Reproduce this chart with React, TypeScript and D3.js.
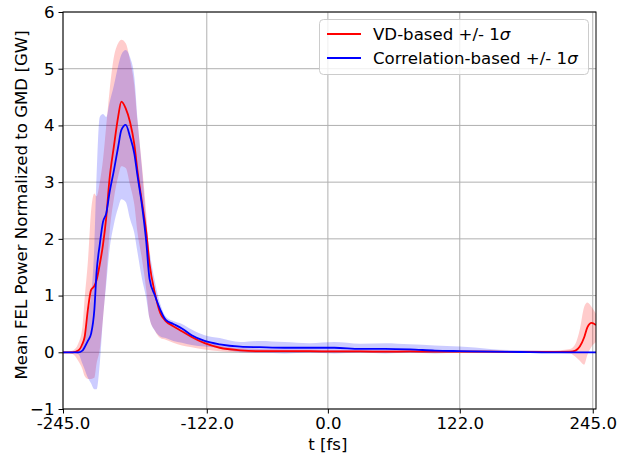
import * as d3 from "d3";
import { useEffect, useRef } from "react";

// time axis [fs]
const tFs = [-245, -236, -231, -227, -225, -222, -219, -216, -214, -211, -208, -205, -202, -198, -194, -191, -187, -183, -179, -176, -172, -168, -165, -160, -155, -150, -143, -135, -126, -114, -100, -81, -63, -40, -17, 6, 30, 53, 76, 99, 122, 150, 178, 205, 224, 229, 233, 237, 240, 244, 248];

// VD-based mean and +/- 1 sigma
const vdMean = [0, 0, 0.03, 0.15, 0.27, 0.75, 1.1, 1.17, 1.27, 1.55, 1.9, 2.38, 3.05, 3.62, 4.15, 4.42, 4.3, 4.06, 3.66, 3.18, 2.65, 2.12, 1.57, 1.04, 0.69, 0.55, 0.46, 0.37, 0.27, 0.16, 0.08, 0.035, 0.02, 0.02, 0.02, 0.015, 0.015, 0.01, 0.015, 0.01, 0.01, 0.01, 0.005, 0.005, 0.01, 0.03, 0.1, 0.26, 0.44, 0.52, 0.48];
const vdUpper = [0, 0.03, 0.15, 0.45, 0.95, 1.6, 2.5, 2.8, 2.75, 3.0, 3.4, 4.0, 4.6, 5.2, 5.45, 5.51, 5.45, 5.15, 4.7, 4.05, 3.3, 2.45, 1.6, 0.95, 0.72, 0.6, 0.48, 0.4, 0.3, 0.2, 0.12, 0.07, 0.06, 0.05, 0.05, 0.045, 0.045, 0.04, 0.045, 0.04, 0.04, 0.035, 0.03, 0.03, 0.06, 0.15, 0.4, 0.8, 0.88, 0.8, 0.68];
const vdLower = [0, -0.03, -0.15, -0.3, -0.42, -0.47, -0.47, -0.45, -0.2, 0.05, 0.6, 1.3, 2.1, 2.7, 3.1, 3.28, 3.25, 2.95, 2.6, 2.1, 1.65, 1.1, 0.6, 0.38, 0.25, 0.22, 0.17, 0.12, 0.09, 0.05, 0.02, 0.0, -0.01, -0.005, -0.01, -0.01, -0.005, -0.01, -0.01, -0.01, -0.01, -0.01, -0.01, -0.01, -0.02, -0.08, -0.15, -0.22, -0.05, 0.1, 0.18];

// correlation-based mean and +/- 1 sigma
const corrMean = [0, 0, 0, 0.03, 0.09, 0.2, 0.33, 0.75, 1.4, 1.9, 2.3, 2.45, 2.81, 3.2, 3.62, 3.92, 4.01, 3.8, 3.5, 3.1, 2.6, 1.95, 1.3, 1.0, 0.75, 0.57, 0.5, 0.42, 0.3, 0.2, 0.14, 0.1, 0.09, 0.08, 0.08, 0.08, 0.06, 0.06, 0.05, 0.03, 0.02, 0.01, 0.005, 0, 0, 0, 0, 0, 0, 0, 0];
const corrUpper = [0, 0, 0.02, 0.1, 0.3, 0.7, 1.0, 1.9, 3.1, 4.15, 4.2, 4.15, 4.4, 4.7, 5.05, 5.25, 5.33, 5.2, 4.85, 4.1, 3.25, 2.3, 1.8, 1.25, 0.85, 0.63, 0.55, 0.5, 0.4, 0.3, 0.25, 0.18, 0.2, 0.18, 0.16, 0.18, 0.15, 0.16, 0.14, 0.12, 0.1, 0.06, 0.03, 0.02, 0.01, 0.005, 0.005, 0.005, 0.005, 0.005, 0.005];
const corrLower = [0, -0.01, -0.03, -0.2, -0.3, -0.45, -0.55, -0.65, -0.65, -0.2, 0.6, 1.2, 1.8, 2.25, 2.55, 2.7, 2.65, 2.35, 2.1, 1.75, 1.3, 0.95, 0.6, 0.38, 0.28, 0.25, 0.2, 0.17, 0.13, 0.1, 0.07, 0.0, -0.01, -0.02, -0.01, -0.02, -0.01, -0.02, -0.01, -0.02, -0.01, -0.01, -0.01, -0.005, 0, 0, 0, 0, 0, 0, 0];

const xTickValues = [-245, -112, 0, 122, 245];
const xTickLabels = ["-245.0", "-122.0", "0.0", "122.0", "245.0"];
const yTickValues = [-1, 0, 1, 2, 3, 4, 5, 6];

const FONT = "'DejaVu Sans', sans-serif";
const FS = 16.6;

function App() {
	const ref = useRef<SVGSVGElement | null>(null);

	useEffect(() => {
		const svg = d3.select(ref.current);
		svg.selectAll("*").remove();

		const left = 63, right = 596, top = 12, bottom = 409;

		const x = d3.scaleLinear().domain([-245, 248]).range([left, right]);
		const y = d3.scaleLinear().domain([-1, 6]).range([bottom, top]);

		svg.append("rect").attr("width", 617).attr("height", 456).attr("fill", "#fff");

		// grid
		const grid = svg.append("g").attr("stroke", "#b0b0b0").attr("stroke-width", 1);
		xTickValues.forEach(v => {
			grid.append("line").attr("x1", x(v)).attr("x2", x(v)).attr("y1", top).attr("y2", bottom);
		});
		yTickValues.forEach(v => {
			grid.append("line").attr("x1", left).attr("x2", right).attr("y1", y(v)).attr("y2", y(v));
		});

		const clip = svg.append("clipPath").attr("id", "plotclip");
		clip.append("rect").attr("x", left).attr("y", top).attr("width", right - left).attr("height", bottom - top);
		const plot = svg.append("g").attr("clip-path", "url(#plotclip)");

		const idx = d3.range(tFs.length);
		const band = (lo: number[], hi: number[]) =>
			d3.area<number>().x(i => x(tFs[i])).y0(i => y(lo[i])).y1(i => y(hi[i])).curve(d3.curveMonotoneX)(idx);
		const line = (vals: number[]) =>
			d3.line<number>().x(i => x(tFs[i])).y(i => y(vals[i])).curve(d3.curveMonotoneX)(idx);

		plot.append("path").attr("d", band(vdLower, vdUpper)).attr("fill", "#ff0000").attr("fill-opacity", 0.2);
		plot.append("path").attr("d", band(corrLower, corrUpper)).attr("fill", "#0000ff").attr("fill-opacity", 0.2);
		plot.append("path").attr("d", line(vdMean)).attr("fill", "none").attr("stroke", "#ff0000").attr("stroke-width", 1.8);
		plot.append("path").attr("d", line(corrMean)).attr("fill", "none").attr("stroke", "#0000ff").attr("stroke-width", 1.8);

		// axes
		const xAxis = d3.axisBottom(x).tickValues(xTickValues).tickFormat((d, i) => xTickLabels[i]).tickSizeOuter(0).tickSize(4.5).tickPadding(4);
		const gx = svg.append("g").attr("transform", `translate(0,${bottom})`).call(xAxis);
		const yAxis = d3.axisLeft(y).tickValues(yTickValues).tickFormat(d => d3.format("d")(d as number).replace("-", "\u2212")).tickSizeOuter(0).tickSize(4.5).tickPadding(4);
		const gy = svg.append("g").attr("transform", `translate(${left},0)`).call(yAxis);
		[gx, gy].forEach(g => {
			g.select(".domain").remove();
			g.selectAll("line").attr("stroke", "#000").attr("stroke-width", 1);
			g.selectAll("text").attr("fill", "#000").style("font-family", FONT).style("font-size", `${FS}px`);
		});

		// frame
		svg.append("rect").attr("x", left).attr("y", top).attr("width", right - left).attr("height", bottom - top)
			.attr("fill", "none").attr("stroke", "#000").attr("stroke-width", 1);

		// axis labels
		svg.append("text").attr("x", x(0)).attr("y", 450).attr("text-anchor", "middle")
			.style("font-family", FONT).style("font-size", `${FS}px`).text("t [fs]");
		svg.append("text").attr("transform", `translate(27,205) rotate(-90)`).attr("text-anchor", "middle")
			.style("font-family", FONT).style("font-size", `${FS}px`).text("Mean FEL Power Normalized to GMD [GW]");

		// legend
		const lg = svg.append("g");
		lg.append("rect").attr("x", 319.5).attr("y", 19.5).attr("width", 269).attr("height", 55).attr("rx", 4)
			.attr("fill", "#fff").attr("fill-opacity", 0.8).attr("stroke", "#cccccc").attr("stroke-width", 1);
		const entries = [
			{ label: "VD-based +/- 1", color: "#ff0000" },
			{ label: "Correlation-based +/- 1", color: "#0000ff" },
		];
		entries.forEach((e, i) => {
			const cy = 34 + i * 24;
			lg.append("line").attr("x1", 327).attr("x2", 361).attr("y1", cy).attr("y2", cy).attr("stroke", e.color).attr("stroke-width", 1.8);
			const t = lg.append("text").attr("x", 373).attr("y", cy + 6).style("font-family", FONT).style("font-size", `${FS}px`);
			t.append("tspan").text(e.label);
			t.append("tspan").style("font-style", "italic").text("σ");
		});
	}, []);

	return <svg ref={ref} width={617} height={456} style={{ position: "absolute", left: 0, top: 0 }}></svg>;
}

export default App;
